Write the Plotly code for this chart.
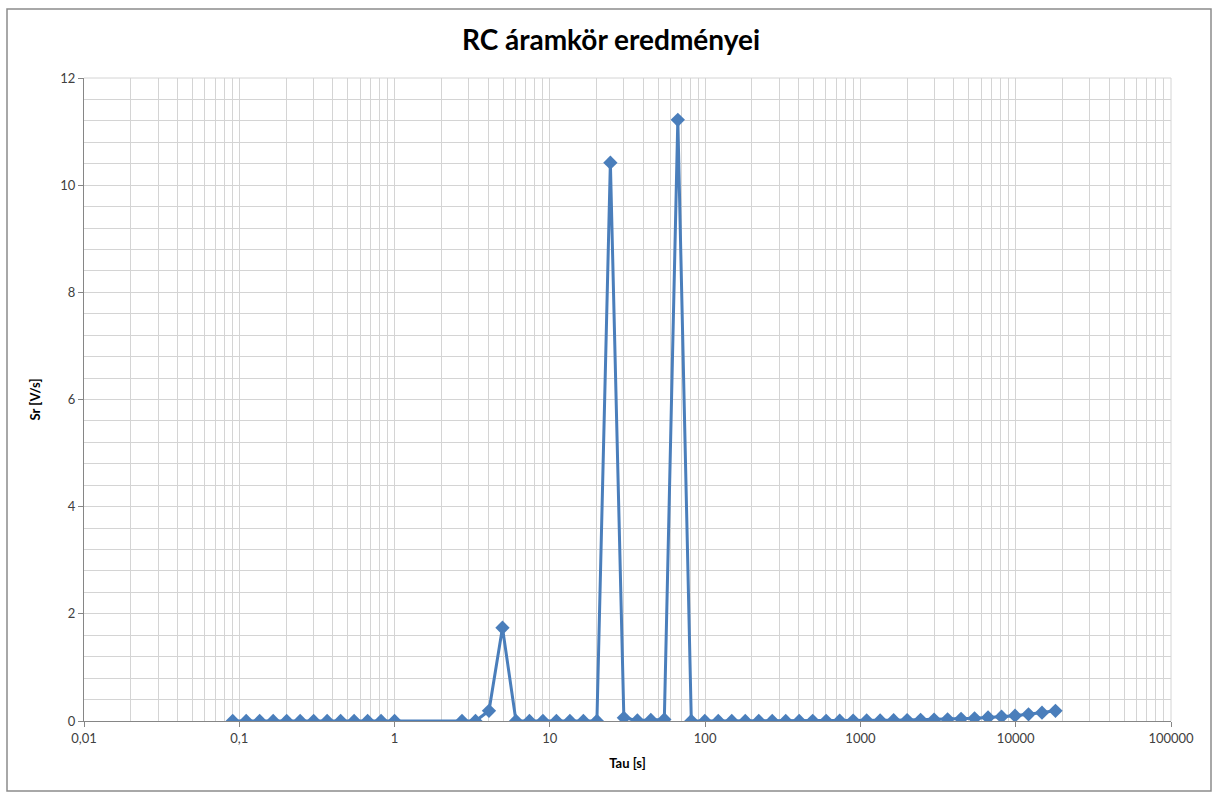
import plotly.graph_objects as go

tau = [0.0907, 0.1108, 0.1353, 0.1653, 0.2019, 0.2466, 0.3012, 0.3679, 0.4493, 0.5488,
       0.6703, 0.8187, 1.0,
       2.718, 3.320, 4.055, 4.953, 6.050, 7.389, 9.025, 11.02, 13.46, 16.44, 20.09,
       24.53, 29.96, 36.60, 44.70, 54.60, 66.69, 81.45, 99.48, 121.5, 148.4, 181.3,
       221.4, 270.4, 330.3, 403.4, 492.7, 601.8, 735.1, 897.8, 1096.6, 1339.4, 1636.0,
       1998.2, 2440.6, 2981.0, 3641.0, 4447.1, 5431.7, 6634.2, 8103.1, 9897.1,
       12088.4, 14764.8, 18033.7]

sr = [0, 0, 0, 0, 0, 0, 0, 0, 0, 0,
      0, 0, 0,
      0, 0, 0.19, 1.74, 0, 0, 0, 0, 0, 0, 0,
      10.42, 0.06, 0.01, 0.02, 0.03, 11.22, 0, 0, 0, 0, 0,
      0, 0, 0.001, 0.002, 0.003, 0.004, 0.005, 0.007, 0.009, 0.011, 0.014,
      0.017, 0.021, 0.026, 0.032, 0.04, 0.05, 0.065, 0.08, 0.1,
      0.125, 0.155, 0.19]

x_tickvals = [0.01, 0.1, 1, 10, 100, 1000, 10000, 100000]
x_ticktext = ["0,01", "0,1", "1", "10", "100", "1000", "10000", "100000"]
minor_mults = [2, 3, 4, 5, 6, 7, 8, 9]

title_text = "RC áramkör eredményei"
x_title = "Tau [s]"
y_title = "Sr [V/s]"

line_color = "#4A7EBB"
grid_color = "#D4D4D4"
axis_color = "#868686"
font_family = "Lato, 'Open Sans', sans-serif"

minor_x = [m * d for d in x_tickvals[:-1] for m in minor_mults]

fig = go.Figure()
fig.add_trace(go.Scatter(
    x=tau, y=sr, mode="lines+markers",
    line=dict(color=line_color, width=3),
    marker=dict(symbol="diamond", size=11, color=line_color),
    showlegend=False,
))

fig.update_layout(
    width=1212, height=792,
    margin=dict(l=84, r=41, t=78, b=71),
    paper_bgcolor="white", plot_bgcolor="white",
    title=dict(text="<b>" + title_text + "</b>", x=611 / 1212, xanchor="center",
               y=1 - 40 / 792, yanchor="middle",
               font=dict(family=font_family, size=28, color="#000000")),
    font=dict(family=font_family, size=12, color="#404040"),
)

fig.update_xaxes(
    type="log", range=[-2, 5],
    tickmode="array", tickvals=x_tickvals, ticktext=x_ticktext,
    showgrid=True, gridcolor=grid_color, gridwidth=1,
    showline=True, linecolor=axis_color, linewidth=1,
    ticks="outside", ticklen=5, tickcolor=axis_color,
    tickfont=dict(family=font_family, size=13, color="#404040"),
    minor=dict(tickmode="array", tickvals=minor_x, showgrid=True,
               gridcolor=grid_color, gridwidth=1, ticks=""),
    title=dict(text="<b>" + x_title + "</b>", standoff=14,
               font=dict(family=font_family, size=13, color="#000000")),
    zeroline=False, mirror=False,
)

fig.update_yaxes(
    range=[0, 12], dtick=2, tick0=0,
    showgrid=True, gridcolor=grid_color, gridwidth=1,
    showline=True, linecolor=axis_color, linewidth=1,
    ticks="outside", ticklen=5, tickcolor=axis_color,
    tickfont=dict(family=font_family, size=13, color="#404040"),
    minor=dict(dtick=0.4, tick0=0, showgrid=True, gridcolor=grid_color, gridwidth=1, ticks=""),
    title=dict(text="<b>" + y_title + "</b>", standoff=16,
               font=dict(family=font_family, size=13, color="#000000")),
    zeroline=False,
)

fig.add_shape(type="line", xref="paper", yref="paper", x0=1, x1=1, y0=0, y1=1,
              line=dict(color=grid_color, width=1))
fig.add_shape(type="line", xref="paper", yref="paper", x0=0, x1=1, y0=1, y1=1,
              line=dict(color=grid_color, width=1))

# outer chart border
fig.add_shape(type="rect", xref="paper", yref="paper",
              x0=(7 - 84) / 1087, x1=(1211 - 84) / 1087,
              y0=(721 - 791) / 643, y1=(721 - 9) / 643,
              line=dict(color="#8C8C8C", width=1.5), layer="below")

fig.write_html("out.html")
